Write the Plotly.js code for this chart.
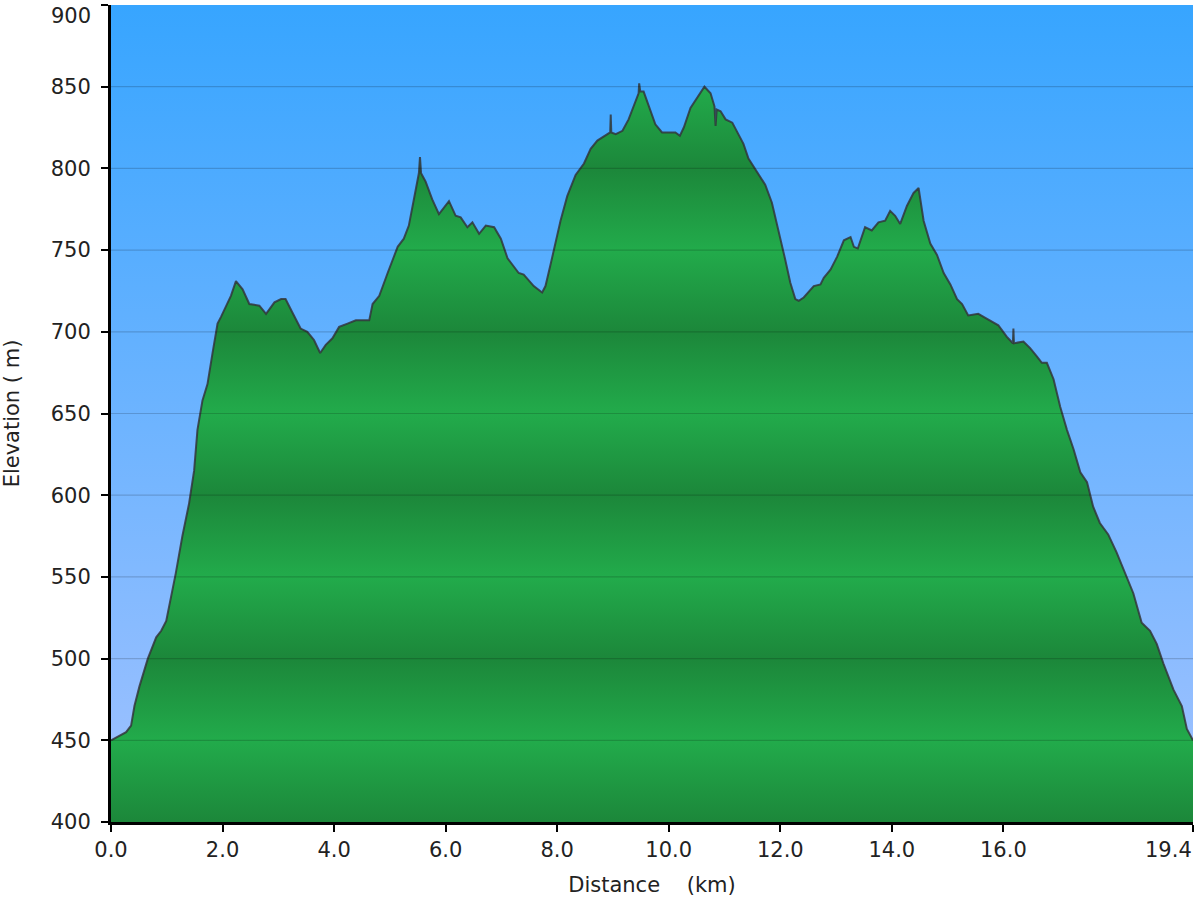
<!DOCTYPE html>
<html>
<head>
<meta charset="utf-8">
<script src="https://cdn.plot.ly/plotly-3.0.1.min.js"></script>
<style>
  html, body { margin: 0; padding: 0; background: #ffffff; }
  #chart { width: 1200px; height: 900px; }
</style>
</head>
<body>
<div id="chart"></div>
<script>
// ---- data ----
const distKm = [
  0.00, 0.27, 0.36, 0.42, 0.51, 0.66, 0.81, 0.90, 0.99, 1.07,
  1.16, 1.28, 1.40, 1.49, 1.55, 1.64, 1.73, 1.82, 1.91, 1.97,
  2.06, 2.15, 2.24, 2.36, 2.48, 2.66, 2.78, 2.93, 3.05, 3.13,
  3.25, 3.40, 3.52, 3.64, 3.75, 3.85, 3.97, 4.09, 4.24, 4.39,
  4.54, 4.63, 4.69, 4.81, 4.96, 5.14, 5.25, 5.34, 5.43, 5.52,
  5.54, 5.56, 5.64, 5.76, 5.88, 6.06, 6.18, 6.27, 6.39, 6.48,
  6.60, 6.72, 6.87, 6.99, 7.11, 7.22, 7.31, 7.40, 7.58, 7.73,
  7.79, 7.88, 7.97, 8.06, 8.18, 8.33, 8.48, 8.60, 8.72, 8.87,
  8.95, 8.96, 8.97, 9.05, 9.17, 9.28, 9.40, 9.46, 9.47, 9.49,
  9.55, 9.64, 9.76, 9.88, 10.03, 10.12, 10.20, 10.27, 10.39, 10.51,
  10.64, 10.75, 10.82, 10.84, 10.86, 10.93, 11.02, 11.14, 11.23, 11.34,
  11.43, 11.58, 11.73, 11.85, 11.97, 12.09, 12.18, 12.27, 12.33, 12.42,
  12.60, 12.72, 12.78, 12.90, 13.02, 13.14, 13.26, 13.32, 13.39, 13.52,
  13.64, 13.76, 13.88, 13.97, 14.06, 14.15, 14.27, 14.39, 14.48, 14.57,
  14.69, 14.81, 14.93, 15.05, 15.17, 15.26, 15.37, 15.55, 15.70, 15.91,
  16.06, 16.17, 16.18, 16.19, 16.36, 16.48, 16.60, 16.69, 16.78, 16.90,
  17.02, 17.14, 17.26, 17.38, 17.50, 17.61, 17.73, 17.88, 18.03, 18.18,
  18.33, 18.48, 18.63, 18.75, 18.87, 19.05, 19.20, 19.29, 19.40
];
const elevM = [
  450, 455, 459, 471, 483, 500, 513, 517, 523, 536,
  552, 575, 595, 615, 640, 658, 668, 687, 705, 709,
  715, 722, 731, 726, 717, 716, 711, 718, 720, 720,
  712, 702, 700, 695, 687, 692, 696, 703, 705, 707,
  707, 707, 717, 722, 736, 752, 757, 765, 781, 797,
  807, 797, 792, 781, 772, 780, 771, 770, 764, 767,
  760, 765, 764, 757, 745, 740, 736, 735, 728, 724,
  728, 741, 754, 768, 783, 796, 803, 812, 817, 820,
  822, 833, 822, 821, 823, 830, 840, 846, 852, 847,
  847, 838, 827, 822, 822, 822, 820, 825, 837, 843,
  850, 846, 838, 826, 836, 835, 830, 828, 822, 815,
  806, 798, 790, 779, 762, 744, 730, 720, 719, 721,
  728, 729, 733, 738, 746, 756, 758, 752, 751, 764,
  762, 767, 768, 774, 771, 766, 777, 785, 788, 768,
  754, 747, 736, 729, 720, 717, 710, 711, 708, 704,
  697, 693, 702, 693, 694, 690, 685, 681, 681, 671,
  654, 640, 628, 614, 608, 593, 583, 576, 565, 552,
  540, 522, 517, 509, 497, 481, 471, 457, 450
];
const xTickVals = [0, 2, 4, 6, 8, 10, 12, 14, 16, 19.4];
const xTickText = ["0.0", "2.0", "4.0", "6.0", "8.0", "10.0", "12.0", "14.0", "16.0", "19.4"];
const yTickVals = [400, 450, 500, 550, 600, 650, 700, 750, 800, 850, 900];
const yTickText = ["400", "450", "500", "550", "600", "650", "700", "750", "800", "850", "900"];
const yMin = 400, yMax = 900;

// ---- styling helpers ----
const green = { dark: "#1c873a", light: "#22ab4b" };
const colorscale = [];
const nBands = (yMax - yMin) / 50;
for (let i = 0; i <= nBands; i++) {
  colorscale.push([i / nBands, i % 2 === 0 ? green.dark : green.light]);
}

const skySvg =
  '<svg xmlns="http://www.w3.org/2000/svg" width="100" height="100" preserveAspectRatio="none">' +
  '<defs><linearGradient id="g" x1="0" y1="0" x2="0" y2="1">' +
  '<stop offset="0" stop-color="#37a5ff"/>' +
  '<stop offset="1" stop-color="#a2c2ff"/>' +
  '</linearGradient></defs><rect width="100" height="100" fill="url(#g)"/></svg>';
const skyUri = "data:image/svg+xml;charset=utf-8," + encodeURIComponent(skySvg);

const gridShapes = yTickVals.filter(v => v > yMin && v < yMax).map(v => ({
  type: "line", xref: "paper", yref: "y", x0: 0, x1: 1, y0: v, y1: v,
  line: { color: "rgba(0,0,0,0.17)", width: 1.2 }, layer: "above"
}));

const fam = "'DejaVu Sans', Verdana, sans-serif";
const tickFont = { family: fam, size: 21, color: "#222" };

// The end labels (top "900", last "19.4") sit inside the chart edge as in
// the original, so they are drawn as annotations anchored at their tick.
const lastX = xTickVals.length - 1, lastY = yTickVals.length - 1;
const xAxisLabels = xTickText.map((t, i) => i === lastX ? "" : t);
const yAxisLabels = yTickText.map((t, i) => i === lastY ? "" : t);
const edgeLabels = [
  { text: xTickText[lastX], x: xTickVals[lastX], xref: "x", xanchor: "right",
    y: 0, yref: "paper", yanchor: "top", yshift: -14, xshift: 1,
    showarrow: false, font: tickFont },
  { text: yTickText[lastY], x: 0, xref: "paper", xanchor: "right", xshift: -18,
    y: yTickVals[lastY], yref: "y", yanchor: "top", yshift: 3,
    showarrow: false, font: tickFont }
];

const trace = {
  x: distKm,
  y: elevM,
  type: "scatter",
  mode: "lines",
  fill: "tozeroy",
  fillgradient: { type: "vertical", start: yMin, stop: yMax, colorscale: colorscale },
  line: { color: "rgba(50,50,55,0.82)", width: 2 },
  hoverinfo: "x+y"
};

const layout = {
  width: 1200, height: 900,
  margin: { l: 111, r: 7, t: 5, b: 78 },
  paper_bgcolor: "#ffffff",
  plot_bgcolor: "rgba(0,0,0,0)",
  showlegend: false,
  font: { family: fam, color: "#222" },
  images: [{
    source: skyUri, xref: "paper", yref: "paper", x: 0, y: 1,
    sizex: 1, sizey: 1, xanchor: "left", yanchor: "top",
    sizing: "stretch", layer: "below"
  }],
  shapes: gridShapes,
  annotations: edgeLabels,
  xaxis: {
    range: [0, 19.4],
    tickmode: "array", tickvals: xTickVals, ticktext: xAxisLabels,
    showgrid: false, zeroline: false,
    showline: true, linecolor: "#000", linewidth: 3,
    ticks: "outside", ticklen: 7, tickwidth: 2, tickcolor: "#000",
    tickfont: tickFont,
    title: { text: "Distance\u00a0\u00a0\u00a0\u00a0(km)", font: { family: fam, size: 21, color: "#222" }, standoff: 17 },
    layer: "above traces",
    fixedrange: true
  },
  yaxis: {
    range: [yMin, yMax],
    tickmode: "array", tickvals: yTickVals, ticktext: yAxisLabels,
    showgrid: false, zeroline: false,
    showline: true, linecolor: "#000", linewidth: 3,
    ticks: "outside", ticklen: 7, tickwidth: 2, tickcolor: "#000",
    ticklabelstandoff: 6,
    tickfont: tickFont,
    title: { text: "Elevation ( m)", font: { family: fam, size: 21, color: "#222" }, standoff: 26 },
    layer: "above traces",
    fixedrange: true
  }
};

Plotly.newPlot("chart", [trace], layout, { displayModeBar: false, staticPlot: true });
</script>
</body>
</html>
